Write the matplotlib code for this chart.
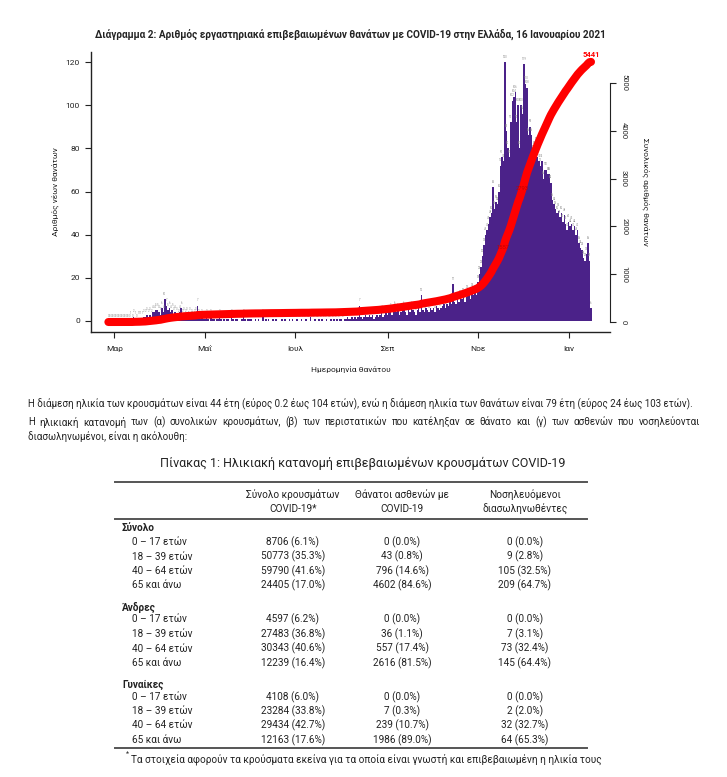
import matplotlib.pyplot as plt
import matplotlib.dates as mdates
import numpy as np
import pandas as pd
from matplotlib.lines import Line2D

plt.rcParams['font.family'] = ['Roboto', 'DejaVu Sans']

# --- Daily lab-confirmed COVID-19 deaths by date of death (26 Feb 2020 - 16 Jan 2021) ---
deaths_feb = [0, 0, 0, 0]
deaths_mar = [0, 0, 0, 0, 0, 0, 0, 0, 0, 0, 0,
              1, 0, 2, 1, 0, 1, 1, 1, 1, 2, 2, 3, 2, 3, 2, 4, 4, 5, 5, 4]
deaths_apr = [3, 6, 4, 10, 7, 5, 6, 4, 5, 3, 4, 3, 2, 4, 6,
              2, 3, 2, 3, 1, 3, 2, 1, 2, 3, 7, 2, 1, 2, 1]
deaths_may = [1, 2, 1, 0, 2, 1, 1, 0, 1, 1, 2, 1, 0, 1, 0, 1,
              1, 0, 2, 1, 0, 1, 1, 0, 0, 1, 2, 1, 0, 1, 1]
deaths_jun = [1, 0, 0, 1, 0, 1, 0, 0, 2, 0, 1, 0, 1, 0, 0,
              1, 0, 1, 0, 0, 0, 1, 0, 1, 0, 0, 1, 0, 1, 0]
deaths_jul = [0, 1, 0, 0, 1, 0, 0, 1, 0, 0, 2, 0, 0, 1, 0, 0,
              1, 0, 1, 0, 0, 1, 0, 0, 1, 0, 1, 0, 1, 0, 1]
deaths_aug = [1, 0, 1, 1, 2, 1, 1, 2, 1, 2, 1, 2, 7, 2, 1, 2,
              3, 2, 2, 3, 2, 3, 1, 2, 3, 2, 3, 4, 2, 3, 4]
deaths_sep = [3, 4, 5, 3, 4, 6, 4, 5, 3, 4, 5, 6, 4, 3, 5,
              4, 6, 5, 4, 3, 5, 6, 4, 12, 5, 4, 6, 5, 4, 6]
deaths_oct = [5, 6, 4, 7, 6, 5, 6, 7, 8, 6, 8, 7, 9, 8, 17, 9,
              8, 10, 9, 11, 10, 12, 9, 11, 13, 12, 10, 14, 12, 13, 12]
deaths_nov = [18, 22, 25, 30, 35, 40, 42, 45, 48, 50, 62, 52, 55, 54, 60,
              72, 76, 74, 120, 88, 80, 76, 92, 102, 104, 106, 92, 100, 80, 100]
deaths_dec = [96, 119, 110, 108, 86, 90, 86, 78, 80, 82, 76, 74, 72, 74, 66, 70,
              70, 68, 68, 64, 56, 54, 52, 50, 51, 48, 50, 46, 49, 45, 42]
deaths_jan = [46, 44, 45, 42, 44, 40, 42, 36, 34, 33, 29, 28, 31, 36, 28, 6]

month_ticks = ['2020-03-01', '2020-05-01', '2020-07-01', '2020-09-01', '2020-11-01', '2021-01-01']
month_labels = ['Μαρ', 'Μαΐ', 'Ιουλ', 'Σεπ', 'Νοε', 'Ιαν']
label_dates = ['2020-11-18', '2020-12-01']

# --- Table 1 ---
age_groups = ['0 – 17 ετών', '18 – 39 ετών', '40 – 64 ετών', '65 και άνω']
sections = ['Σύνολο', 'Άνδρες', 'Γυναίκες']
col_headers = [('Σύνολο κρουσμάτων', 'COVID-19*'),
               ('Θάνατοι ασθενών με', 'COVID-19'),
               ('Νοσηλευόμενοι', 'διασωληνωθέντες')]

total_cases = [8706, 50773, 59790, 24405]
total_cases_pct = [6.1, 35.3, 41.6, 17.0]
total_deaths = [0, 43, 796, 4602]
total_deaths_pct = [0.0, 0.8, 14.6, 84.6]
total_icu = [0, 9, 105, 209]
total_icu_pct = [0.0, 2.8, 32.5, 64.7]

men_cases = [4597, 27483, 30343, 12239]
men_cases_pct = [6.2, 36.8, 40.6, 16.4]
men_deaths = [0, 36, 557, 2616]
men_deaths_pct = [0.0, 1.1, 17.4, 81.5]
men_icu = [0, 7, 73, 145]
men_icu_pct = [0.0, 3.1, 32.4, 64.4]

women_cases = [4108, 23284, 29434, 12163]
women_cases_pct = [6.0, 33.8, 42.7, 17.6]
women_deaths = [0, 7, 239, 1986]
women_deaths_pct = [0.0, 0.3, 10.7, 89.0]
women_icu = [0, 2, 32, 64]
women_icu_pct = [0.0, 2.0, 32.7, 65.3]

title = ('Διάγραμμα 2: Αριθμός εργαστηριακά επιβεβαιωμένων θανάτων με COVID-19 '
         'στην Ελλάδα, 16 Ιανουαρίου 2021')
paragraph = [
    'Η διάμεση ηλικία των κρουσμάτων είναι 44 έτη (εύρος 0.2 έως 104 ετών), ενώ η διάμεση '
    'ηλικία των θανάτων είναι 79 έτη (εύρος 24 έως 103 ετών).',
    'Η ηλικιακή κατανομή των (α) συνολικών κρουσμάτων, (β) των περιστατικών που κατέληξαν '
    'σε θάνατο και (γ) των ασθενών που νοσηλεύονται',
    'διασωληνωμένοι, είναι η ακόλουθη:',
]
table_title = 'Πίνακας 1: Ηλικιακή κατανομή επιβεβαιωμένων κρουσμάτων COVID-19'
footnote = 'Τα στοιχεία αφορούν τα κρούσματα εκείνα για τα οποία είναι γνωστή και επιβεβαιωμένη η ηλικία τους'

W, H = 727, 777
BAR = '#4b2289'
RED = '#ff0000'
INK = '#222222'


def put(x, y, s, **kw):
    """Place figure text using pixel coords measured from top-left."""
    kw.setdefault('color', INK)
    return fig.text(x / W, 1 - y / H, s, **kw)


def put_justified(x0, x1, y, s, **kw):
    """Spread the words of a line so it fills x0..x1 (justified paragraph line)."""
    words = s.split(' ')
    renderer = fig.canvas.get_renderer()
    widths = []
    for w in words:
        t = put(0, y, w, **kw)
        widths.append(t.get_window_extent(renderer).width)
        t.remove()
    gap = (x1 - x0 - sum(widths)) / (len(words) - 1)
    x = x0
    for w, wd in zip(words, widths):
        put(x, y, w, ha='left', **kw)
        x += wd + gap


def rule(y, x0=115, x1=587, lw=1.4):
    fig.add_artist(Line2D([x0 / W, x1 / W], [1 - y / H, 1 - y / H],
                          color='#555555', lw=lw))


daily = np.array(deaths_feb + deaths_mar + deaths_apr + deaths_may + deaths_jun
                 + deaths_jul + deaths_aug + deaths_sep + deaths_oct + deaths_nov
                 + deaths_dec + deaths_jan)
dates = pd.date_range('2020-02-26', '2021-01-16')
assert len(dates) == len(daily)
xd = mdates.date2num(dates)
cum = np.cumsum(daily)

fig = plt.figure(figsize=(W / 100, H / 100), dpi=100)
ax = fig.add_axes([91 / W, 1 - 332 / H, (610 - 91) / W, (332 - 52) / H])

ax.bar(xd, daily, width=1.0, color=BAR, linewidth=0)
for x, v in zip(xd, daily):
    ax.text(x, v + 1.6, str(v), fontsize=2.0, color='#8a8a8a', ha='center', va='bottom')

mar1 = mdates.date2num(pd.Timestamp('2020-03-01'))
ax.set_xlim(mar1 - 15.7, mar1 + 333.8)
ax.set_ylim(-5.1, 124.65)
ax.set_yticks([0, 20, 40, 60, 80, 100, 120])
ax.set_xticks(mdates.date2num(pd.to_datetime(month_ticks)))
ax.set_xticklabels(month_labels)
ax.tick_params(axis='both', labelsize=6, colors=INK, length=4, width=0.8, pad=4)
ax.tick_params(axis='x', pad=6)
for s in ['top', 'right']:
    ax.spines[s].set_visible(False)
for s in ['left', 'bottom']:
    ax.spines[s].set_linewidth(1.0)
    ax.spines[s].set_color(INK)
ax.set_ylabel('Αριθμός νέων θανάτων', fontsize=6, color=INK, labelpad=5)
ax.set_xlabel('Ημερομηνία θανάτου', fontsize=6, color=INK, labelpad=10)

ax2 = ax.twinx()
ax2.plot(xd, cum, color=RED, lw=5.8, solid_capstyle='round')
ax2.set_ylim(-209, 5648)
ax2.set_yticks([0, 1000, 2000, 3000, 4000, 5000])
ax2.tick_params(axis='y', labelsize=5.5, colors=INK, length=4, width=0.8, pad=4)
for lab in ax2.get_yticklabels():
    lab.set_rotation(-90)
    lab.set_va('center')
for s in ['top', 'left', 'bottom']:
    ax2.spines[s].set_visible(False)
ax2.spines['right'].set_bounds(0, 5000)
ax2.spines['right'].set_color(INK)
ax2.set_ylabel('Συνολικός αριθμός θανάτων', fontsize=6, color=INK,
               rotation=-90, labelpad=16)

ax2.text(xd[-1], cum[-1] + 90, str(cum[-1]), color=RED, fontsize=5.5,
         fontweight='bold', ha='center', va='bottom')
for d in label_dates:
    i = list(dates).index(pd.Timestamp(d))
    ax2.text(xd[i], cum[i], str(cum[i]), color='#c00000', fontsize=4.2,
             ha='center', va='center')

# --- Title and text ---
put(350, 34, title, fontsize=7.2, fontweight='bold', ha='center', va='center')
put(28, 404, paragraph[0], fontsize=7.0, ha='left', va='center')
put_justified(28, 700, 422, paragraph[1], fontsize=7.0, va='center')
put(28, 437, paragraph[2], fontsize=7.0, ha='left', va='center')
put(363, 463, table_title, fontsize=9, ha='center', va='center')

# --- Table ---
col_x = [293, 402, 525]
rule(482)
for cx, (l1, l2) in zip(col_x, col_headers):
    put(cx, 495, l1, fontsize=7.2, ha='center', va='center')
    put(cx, 509, l2, fontsize=7.2, ha='center', va='center')
rule(519)

section_rows = [
    (528, [542, 556.5, 571, 585.5],
     [(total_cases, total_cases_pct), (total_deaths, total_deaths_pct), (total_icu, total_icu_pct)]),
    (607, [619.5, 634, 648.5, 663],
     [(men_cases, men_cases_pct), (men_deaths, men_deaths_pct), (men_icu, men_icu_pct)]),
    (685, [697.5, 711.5, 725.5, 740],
     [(women_cases, women_cases_pct), (women_deaths, women_deaths_pct), (women_icu, women_icu_pct)]),
]
for name, (hy, rows_y, cols) in zip(sections, section_rows):
    put(122, hy, name, fontsize=7.2, fontweight='bold', ha='left', va='center')
    for r, y in enumerate(rows_y):
        put(132, y, age_groups[r], fontsize=7.2, ha='left', va='center')
        for cx, (vals, pcts) in zip(col_x, cols):
            put(cx, y, f'{vals[r]} ({pcts[r]:.1f}%)', fontsize=7.2, ha='center', va='center')
rule(748)
put(126, 754, '*', fontsize=5, ha='left', va='center')
put(131, 759, footnote, fontsize=7.2, ha='left', va='center')

fig.savefig('out.png', dpi=100)
